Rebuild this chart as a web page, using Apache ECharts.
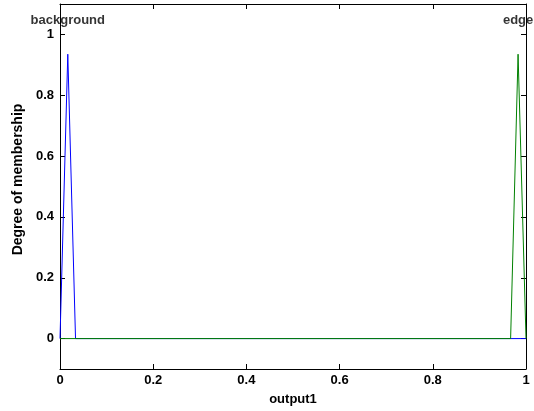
<!DOCTYPE html>
<html><head><meta charset="utf-8">
<script src="https://cdn.jsdelivr.net/npm/echarts@6/dist/echarts.min.js"></script>
<style>html,body{margin:0;padding:0;background:#fff}#c{width:534px;height:411px}</style>
</head><body><div id="c"></div>
<script>
var xTicks = [0, 0.2, 0.4, 0.6, 0.8, 1];
var yTicks = [0, 0.2, 0.4, 0.6, 0.8, 1];
var backgroundX = [0, 0.0167, 0.0333, 1];
var backgroundY = [0, 0.935, 0, 0];
var edgeX = [0, 0.967, 0.983, 1];
var edgeY = [0, 0, 0.935, 0];
var mfNames = ['background', 'edge'];
var mfLabelX = [0.0167, 0.983];
var mfLabelY = [1.045, 1.045];

function pairs(xs, ys){ return xs.map(function(x,i){return [x, ys[i]];}); }
var font = 'Liberation Sans, Arial, sans-serif';
var chart = echarts.init(document.getElementById('c'));
var tickStyle = {show:true, inside:true, length:5, lineStyle:{color:'#000', width:1}};
chart.setOption({
  animation:false,
  grid:{left:60, right:8, top:4, bottom:40, show:false},
  xAxis:[{
    type:'value', min:0, max:1, interval:0.2,
    name:'output1', nameLocation:'middle', nameGap:24,
    nameTextStyle:{color:'#000', fontFamily:font, fontWeight:'bold', fontSize:13},
    axisLine:{show:true, onZero:false, lineStyle:{color:'#000', width:1}},
    axisTick:tickStyle,
    axisLabel:{color:'#000', fontFamily:font, fontWeight:'bold', fontSize:13, margin:5,
      formatter:function(v){return String(+v.toFixed(1));}},
    splitLine:{show:false}
  },{
    type:'value', position:'top', min:0, max:1, interval:0.2,
    axisLine:{show:true, onZero:false, lineStyle:{color:'#000', width:1}},
    axisTick:tickStyle, axisLabel:{show:false}, splitLine:{show:false}
  }],
  yAxis:[{
    type:'value', min:-0.1, max:1.1,
    name:'Degree of membership', nameLocation:'middle', nameGap:31,
    nameTextStyle:{color:'#000', fontFamily:font, fontWeight:'bold', fontSize:14, padding:[0,0,0,14]},
    axisLine:{show:true, onZero:false, lineStyle:{color:'#000', width:1}},
    axisTick:Object.assign({customValues:yTicks}, tickStyle),
    axisLabel:{customValues:yTicks, color:'#000', fontFamily:font, fontWeight:'bold', fontSize:13, margin:6,
      formatter:function(v){return String(+(+v).toFixed(1));}},
    splitLine:{show:false}
  },{
    type:'value', position:'right', min:-0.1, max:1.1,
    axisLine:{show:true, onZero:false, lineStyle:{color:'#000', width:1}},
    axisTick:Object.assign({customValues:yTicks}, tickStyle),
    axisLabel:{show:false}, splitLine:{show:false}
  }],
  series:[{
    type:'line', data:pairs(backgroundX, backgroundY), showSymbol:false, symbol:'none',
    lineStyle:{color:'#0000ff', width:1}, clip:true
  },{
    type:'line', data:pairs(edgeX, edgeY), showSymbol:false, symbol:'none',
    lineStyle:{color:'#008000', width:1}, clip:true
  },{
    type:'scatter', symbolSize:0, clip:false,
    data:mfNames.map(function(n,i){return {value:[mfLabelX[i], mfLabelY[i]], name:n};}),
    label:{show:true, position:'inside', formatter:'{b}', color:'#000', fontFamily:font, fontWeight:'bold', fontSize:13}
  }]
});
</script></body></html>
